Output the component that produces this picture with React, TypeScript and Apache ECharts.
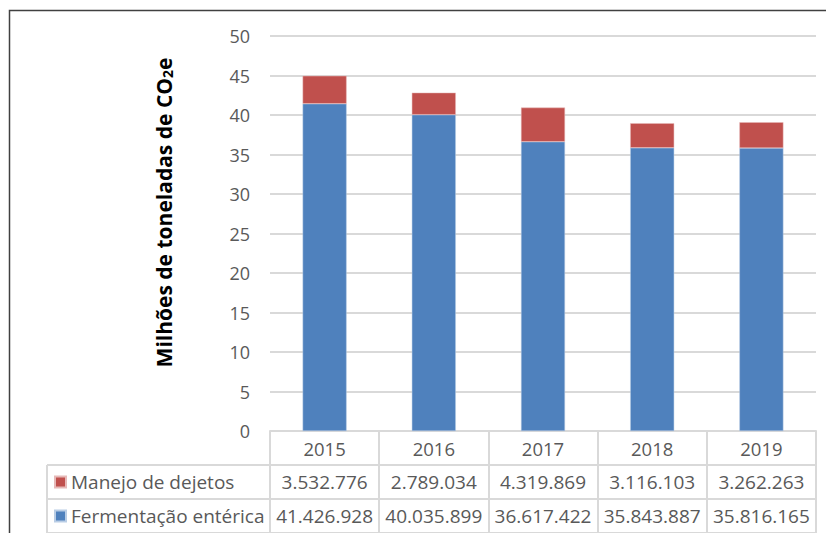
import React, { useEffect, useRef } from "react";
import * as echarts from "echarts";

const years = ["2015", "2016", "2017", "2018", "2019"];
const manejoDejetos = [3532776, 2789034, 4319869, 3116103, 3262263];
const fermentacaoEnterica = [41426928, 40035899, 36617422, 35843887, 35816165];
const seriesNames = ["Manejo de dejetos", "Fermentação entérica"];
const yTicks = { min: 0, max: 50, interval: 5 };

const RED = "#C0504D";
const BLUE = "#4F81BD";
const TEXT = "#595959";
const LINE = "#d9d9d9";
const FONT = "'Open Sans', 'Liberation Sans', sans-serif";

const W = 826;
const H = 533;
const GRID_LEFT = 270;
const GRID_RIGHT = 10;
const GRID_TOP = 36;
const GRID_BOTTOM = 102;
const ROW_H = 34;
const TABLE_LEFT = 47;

const fmt = (n: number) => String(n).replace(/\B(?=(\d{3})+(?!\d))/g, ".");

export default function App() {
  const ref = useRef<HTMLDivElement>(null);
  useEffect(() => {
    if (!ref.current) return;
    const chart = echarts.init(ref.current, undefined, { renderer: "svg" });
    const axisY = H - GRID_BOTTOM;
    const tableRight = W - GRID_RIGHT;
    const rowLines = [1, 2, 3].map((k) => axisY + k * ROW_H);
    const legendText = { fontFamily: FONT, fontSize: 19, color: TEXT, lineHeight: 20 };
    const option: any = {
      animation: false,
      backgroundColor: "#ffffff",
      grid: { left: GRID_LEFT, right: GRID_RIGHT, top: GRID_TOP, bottom: GRID_BOTTOM },
      legend: [
        {
          data: [seriesNames[0]],
          left: TABLE_LEFT + 7,
          top: axisY + ROW_H + ROW_H / 2 - 10,
          padding: 0,
          icon: "rect",
          itemWidth: 11,
          itemHeight: 11,
          selectedMode: false,
          textStyle: legendText,
        },
        {
          data: [seriesNames[1]],
          left: TABLE_LEFT + 7,
          top: axisY + 2 * ROW_H + ROW_H / 2 - 10,
          padding: 0,
          icon: "rect",
          itemWidth: 11,
          itemHeight: 11,
          selectedMode: false,
          textStyle: legendText,
        },
      ],
      xAxis: {
        type: "category",
        data: years,
        axisLine: { show: true, lineStyle: { color: LINE, width: 2 } },
        axisTick: { show: true, length: 3 * ROW_H, interval: 0, lineStyle: { color: LINE, width: 2 } },
        axisLabel: {
          interval: 0,
          margin: 0,
          formatter: (v: string, i: number) =>
            `{y|${v}}\n{v|${fmt(manejoDejetos[i])}}\n{v|${fmt(fermentacaoEnterica[i])}}`,
          rich: {
            y: { fontFamily: FONT, fontSize: 18.5, color: TEXT, lineHeight: ROW_H },
            v: { fontFamily: FONT, fontSize: 19, color: TEXT, lineHeight: ROW_H },
          },
        },
      },
      yAxis: {
        type: "value",
        min: yTicks.min,
        max: yTicks.max,
        interval: yTicks.interval,
        name: "Milhões de toneladas de CO{s|2}e",
        nameLocation: "middle",
        nameGap: 96,
        nameRotate: 90,
        nameTextStyle: {
          fontFamily: FONT,
          fontSize: 21,
          fontWeight: "bold",
          color: "#000000",
          padding: [0, 0, 0, 42],
          rich: {
            s: { fontFamily: FONT, fontSize: 14, fontWeight: "bold", color: "#000000", verticalAlign: "bottom", padding: [6, 0, 0, 0] },
          },
        },
        axisLine: { show: false },
        axisTick: { show: false },
        axisLabel: { fontFamily: FONT, fontSize: 18, color: TEXT, margin: 20 },
        splitLine: { lineStyle: { color: LINE, width: 2 } },
      },
      series: [
        {
          name: seriesNames[1],
          type: "bar",
          stack: "total",
          barWidth: 44,
          itemStyle: { color: BLUE, borderColor: "#b9cde5", borderWidth: 0.5 },
          data: fermentacaoEnterica.map((v) => v / 1e6),
        },
        {
          name: seriesNames[0],
          type: "bar",
          stack: "total",
          barWidth: 44,
          itemStyle: { color: RED, borderColor: "#e6b9b8", borderWidth: 0.5 },
          data: manejoDejetos.map((v) => v / 1e6),
        },
      ],
      graphic: [
        {
          type: "rect",
          shape: { x: 9.5, y: 10.5, width: 900, height: 600 },
          style: { fill: "none", stroke: "#404040", lineWidth: 1.5 },
          silent: true,
        },
        ...rowLines.map((y) => ({
          type: "line",
          shape: { x1: TABLE_LEFT, y1: y, x2: tableRight, y2: y },
          style: { stroke: LINE, lineWidth: 2 },
          silent: true,
        })),
        {
          type: "line",
          shape: { x1: TABLE_LEFT, y1: axisY + ROW_H, x2: TABLE_LEFT, y2: axisY + 3 * ROW_H },
          style: { stroke: LINE, lineWidth: 2 },
          silent: true,
        },
      ],
    };
    chart.setOption(option);
    return () => chart.dispose();
  }, []);
  return (
    <div
      ref={ref}
      style={{ position: "absolute", left: 0, top: 0, width: W, height: H, background: "#fff" }}
    />
  );
}
